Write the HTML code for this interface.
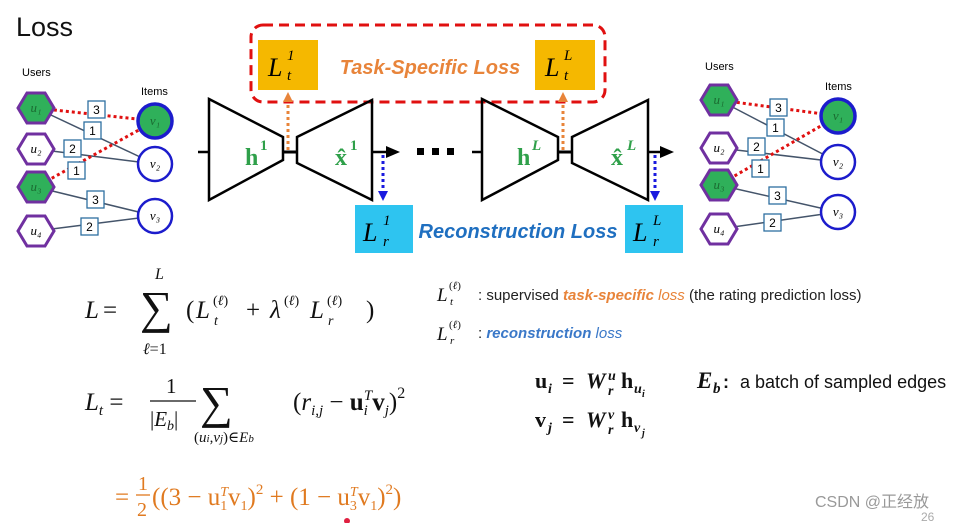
<!DOCTYPE html>
<html><head><meta charset="utf-8"><style>
html,body{margin:0;padding:0;background:#fff;}
svg{display:block;}
.m{font-family:"Liberation Serif","DejaVu Serif",serif;}
.s{font-family:"Liberation Sans","DejaVu Sans",sans-serif;}
</style></head><body>
<svg width="961" height="523" viewBox="0 0 961 523" xmlns="http://www.w3.org/2000/svg">
<defs>
<marker id="ao" markerUnits="userSpaceOnUse" markerWidth="10" markerHeight="10" refX="2" refY="5" orient="auto"><path d="M0,0 L10,5 L0,10z" fill="#e8843a"/></marker>
<marker id="ab" markerUnits="userSpaceOnUse" markerWidth="10" markerHeight="10" refX="2" refY="5" orient="auto"><path d="M0,0 L10,5 L0,10z" fill="#1a1adf"/></marker>
<marker id="ak" markerUnits="userSpaceOnUse" markerWidth="14" markerHeight="12" refX="2" refY="6" orient="auto"><path d="M0,0 L14,6 L0,12z" fill="#000"/></marker>
<g id="hex"><polygon points="-18,0 -9,-15 9,-15 18,0 9,15 -9,15" stroke="#7030a0" stroke-width="3"/></g>
</defs>
<text x="16" y="36" class="s" font-size="27" fill="#111">Loss</text>

<!-- left graph -->
<g class="s" font-size="11">
<text x="22" y="76">Users</text><text x="141" y="95">Items</text>
<g stroke="#44546a" stroke-width="1.5">
<line x1="36" y1="108" x2="155" y2="164"/><line x1="36" y1="149" x2="155" y2="164"/>
<line x1="36" y1="187" x2="155" y2="216"/><line x1="36" y1="231" x2="155" y2="216"/></g>
<g stroke="#e01010" stroke-width="3" stroke-dasharray="3,3">
<line x1="36" y1="108" x2="155" y2="121"/><line x1="36" y1="187" x2="155" y2="121"/></g>
<use href="#hex" x="36" y="108" fill="#2fb05a"/><use href="#hex" x="36" y="149" fill="#fff"/>
<use href="#hex" x="36" y="187" fill="#2fb05a"/><use href="#hex" x="36" y="231" fill="#fff"/>
<circle cx="155" cy="121" r="17" fill="#2fb05a" stroke="#1c1ccc" stroke-width="3.5"/>
<circle cx="155" cy="164" r="17" fill="#fff" stroke="#1c1ccc" stroke-width="2.5"/>
<circle cx="155" cy="216" r="17" fill="#fff" stroke="#1c1ccc" stroke-width="2.5"/>
<g class="m" font-style="italic" font-size="13" text-anchor="middle">
<text x="36" y="112" fill="#1a6a30">u₁</text><text x="36" y="153">u₂</text><text x="36" y="191" fill="#1a6a30">u₃</text><text x="36" y="235">u₄</text>
<text x="155" y="125" fill="#1a6a30">v₁</text><text x="155" y="168">v₂</text><text x="155" y="220">v₃</text></g>
<g fill="#fff" stroke="#2e6fa0" stroke-width="1.3">
<rect x="88" y="101" width="17" height="17"/><rect x="84" y="122" width="17" height="17"/><rect x="64" y="140" width="17" height="17"/>
<rect x="68" y="162" width="17" height="17"/><rect x="87" y="191" width="17" height="17"/><rect x="81" y="218" width="17" height="17"/></g>
<g font-size="12" text-anchor="middle"><text x="96.5" y="114">3</text><text x="92.5" y="135">1</text><text x="72.5" y="153">2</text><text x="76.5" y="175">1</text><text x="95.5" y="204">3</text><text x="89.5" y="231">2</text></g>
</g>

<!-- right graph -->
<g class="s" font-size="11">
<text x="705" y="70">Users</text><text x="825" y="90">Items</text>
<g stroke="#44546a" stroke-width="1.5">
<line x1="719" y1="100" x2="838" y2="162"/><line x1="719" y1="148" x2="838" y2="162"/>
<line x1="719" y1="185" x2="838" y2="212"/><line x1="719" y1="229" x2="838" y2="212"/></g>
<g stroke="#e01010" stroke-width="3" stroke-dasharray="3,3">
<line x1="719" y1="100" x2="838" y2="116"/><line x1="719" y1="185" x2="838" y2="116"/></g>
<use href="#hex" x="719" y="100" fill="#2fb05a"/><use href="#hex" x="719" y="148" fill="#fff"/>
<use href="#hex" x="719" y="185" fill="#2fb05a"/><use href="#hex" x="719" y="229" fill="#fff"/>
<circle cx="838" cy="116" r="17" fill="#2fb05a" stroke="#1c1ccc" stroke-width="3.5"/>
<circle cx="838" cy="162" r="17" fill="#fff" stroke="#1c1ccc" stroke-width="2.5"/>
<circle cx="838" cy="212" r="17" fill="#fff" stroke="#1c1ccc" stroke-width="2.5"/>
<g class="m" font-style="italic" font-size="13" text-anchor="middle">
<text x="719" y="104" fill="#1a6a30">u₁</text><text x="719" y="152">u₂</text><text x="719" y="189" fill="#1a6a30">u₃</text><text x="719" y="233">u₄</text>
<text x="838" y="120" fill="#1a6a30">v₁</text><text x="838" y="166">v₂</text><text x="838" y="216">v₃</text></g>
<g fill="#fff" stroke="#2e6fa0" stroke-width="1.3">
<rect x="770" y="99" width="17" height="17"/><rect x="767" y="119" width="17" height="17"/><rect x="748" y="138" width="17" height="17"/>
<rect x="752" y="160" width="17" height="17"/><rect x="769" y="187" width="17" height="17"/><rect x="764" y="214" width="17" height="17"/></g>
<g font-size="12" text-anchor="middle"><text x="778.5" y="112">3</text><text x="775.5" y="132">1</text><text x="756.5" y="151">2</text><text x="760.5" y="173">1</text><text x="777.5" y="200">3</text><text x="772.5" y="227">2</text></g>
</g>

<!-- autoencoder -->
<rect x="251" y="25" width="354" height="77" rx="12" fill="none" stroke="#e01010" stroke-width="3" stroke-dasharray="10,6"/>
<rect x="258" y="40" width="60" height="50" fill="#f5b800"/>
<rect x="535" y="40" width="60" height="50" fill="#f5b800"/>
<g class="m" font-style="italic" font-size="26"><text x="268" y="76">L</text><text x="545" y="76">L</text></g>
<g class="m" font-style="italic" font-size="15"><text x="287" y="60">1</text><text x="287" y="80">t</text><text x="564" y="60">L</text><text x="564" y="80">t</text></g>
<text x="430" y="74" class="s" font-size="20" font-weight="bold" font-style="italic" fill="#e8843a" text-anchor="middle">Task-Specific Loss</text>

<g fill="none" stroke="#000" stroke-width="2.5">
<polygon points="209,99 283,137 283,160 209,200"/><polygon points="297,137 372,100 372,200 297,163"/>
<polygon points="482,99 558,137 558,160 482,200"/><polygon points="572,137 648,100 648,200 572,163"/>
<line x1="283" y1="152" x2="297" y2="152" stroke-width="3"/><line x1="558" y1="152" x2="572" y2="152" stroke-width="3"/>
<line x1="198" y1="152" x2="209" y2="152"/><line x1="472" y1="152" x2="482" y2="152"/>
<line x1="372" y1="152" x2="388" y2="152" marker-end="url(#ak)"/><line x1="648" y1="152" x2="662" y2="152" marker-end="url(#ak)"/>
</g>
<g fill="#000"><rect x="417" y="148" width="7" height="7"/><rect x="432" y="148" width="7" height="7"/><rect x="447" y="148" width="7" height="7"/></g>
<g stroke="#e8843a" stroke-width="3" stroke-dasharray="3,3"><line x1="288" y1="150" x2="288" y2="100" marker-end="url(#ao)"/><line x1="563" y1="150" x2="563" y2="100" marker-end="url(#ao)"/></g>
<g stroke="#1a1adf" stroke-width="3" stroke-dasharray="3,3"><line x1="383" y1="155" x2="383" y2="193" marker-end="url(#ab)"/><line x1="655" y1="155" x2="655" y2="193" marker-end="url(#ab)"/></g>
<g class="m" font-weight="bold" font-size="24" fill="#2fa04a"><text x="245" y="165">h</text><text x="517" y="165">h</text><text x="335" y="165">x̂</text><text x="611" y="165">x̂</text></g>
<g class="m" font-weight="bold" font-size="15" fill="#2fa04a"><text x="260" y="150">1</text><text x="532" y="150" font-style="italic">L</text><text x="350" y="150">1</text><text x="627" y="150" font-style="italic">L</text></g>

<rect x="355" y="205" width="58" height="48" fill="#2ec4f0"/><rect x="625" y="205" width="58" height="48" fill="#2ec4f0"/>
<g class="m" font-style="italic" font-size="26"><text x="363" y="241">L</text><text x="633" y="241">L</text></g>
<g class="m" font-style="italic" font-size="15"><text x="383" y="225">1</text><text x="383" y="246">r</text><text x="653" y="225">L</text><text x="653" y="246">r</text></g>
<text x="518" y="238" class="s" font-size="20" font-weight="bold" font-style="italic" fill="#1f6fc0" text-anchor="middle">Reconstruction Loss</text>

<!-- equations -->
<g class="m" font-size="25" fill="#111">
<text x="85" y="318" font-style="italic">L</text><text x="103" y="318">=</text>
<text x="140" y="323" font-size="46">∑</text>
<text x="155" y="279" font-size="16" font-style="italic">L</text>
<text x="143" y="354" font-size="16"><tspan font-style="italic">ℓ</tspan>=1</text>
<text x="186" y="318">(</text><text x="196" y="318" font-style="italic">L</text>
<text x="213" y="305" font-size="14">(<tspan font-style="italic">ℓ</tspan>)</text><text x="214" y="325" font-size="14" font-style="italic">t</text>
<text x="246" y="318">+</text><text x="270" y="318" font-style="italic">λ</text>
<text x="284" y="305" font-size="14">(<tspan font-style="italic">ℓ</tspan>)</text>
<text x="310" y="318" font-style="italic">L</text>
<text x="327" y="305" font-size="14">(<tspan font-style="italic">ℓ</tspan>)</text><text x="328" y="325" font-size="14" font-style="italic">r</text>
<text x="366" y="318">)</text>

<text x="85" y="410"><tspan font-style="italic">L</tspan><tspan font-size="15" font-style="italic" dy="5">t</tspan><tspan dy="-5"> =</tspan></text>
<text x="166" y="393" font-size="21">1</text>
<line x1="150" y1="401" x2="196" y2="401" stroke="#111" stroke-width="1.3"/>
<text x="150" y="426" font-size="21">|<tspan font-style="italic">E</tspan><tspan font-size="14" font-style="italic" dy="4">b</tspan><tspan dy="-4">|</tspan></text>
<text x="200" y="418" font-size="46">∑</text>
<text x="194" y="442" font-size="15">(<tspan font-style="italic">u<tspan font-size="11">i</tspan></tspan>,<tspan font-style="italic">v<tspan font-size="11">j</tspan></tspan>)∈<tspan font-style="italic">E<tspan font-size="11">b</tspan></tspan></text>
<text x="293" y="410">(<tspan font-style="italic">r</tspan><tspan font-size="15" font-style="italic" dy="5">i,j</tspan><tspan dy="-5"> − </tspan><tspan font-weight="bold">u</tspan><tspan font-size="15" font-style="italic" dy="5">i</tspan><tspan font-size="15" font-style="italic" dx="-4" dy="-15">T</tspan><tspan font-weight="bold" dy="10">v</tspan><tspan font-size="15" font-style="italic" dy="5">j</tspan><tspan dy="-5">)</tspan><tspan font-size="16" dy="-12">2</tspan></text>
</g>
<g class="m" font-size="25" fill="#e07a20">
<text x="115" y="505">=</text>
<text x="138" y="490" font-size="20">1</text>
<line x1="136" y1="495" x2="150" y2="495" stroke="#e07a20" stroke-width="1.3"/>
<text x="137" y="516" font-size="20">2</text>
<text x="152" y="505">((3 − u<tspan font-size="14" dy="5">1</tspan><tspan font-size="14" font-style="italic" dx="-7" dy="-14">T</tspan><tspan dy="9">v</tspan><tspan font-size="14" dy="5">1</tspan><tspan dy="-5">)</tspan><tspan font-size="15" dy="-11">2</tspan><tspan dy="11"> + (1 − u</tspan><tspan font-size="14" dy="5">3</tspan><tspan font-size="14" font-style="italic" dx="-7" dy="-14">T</tspan><tspan dy="9">v</tspan><tspan font-size="14" dy="5">1</tspan><tspan dy="-5">)</tspan><tspan font-size="15" dy="-11">2</tspan><tspan dy="11">)</tspan></text>
</g>
<circle cx="347" cy="521" r="3" fill="#e02040"/>

<!-- right texts -->
<g class="m" font-style="italic" font-size="19" fill="#111"><text x="437" y="301">L</text><text x="437" y="340">L</text></g>
<g class="m" font-size="11" fill="#111"><text x="449" y="289">(<tspan font-style="italic">ℓ</tspan>)</text><text x="450" y="305" font-style="italic">t</text><text x="449" y="328">(<tspan font-style="italic">ℓ</tspan>)</text><text x="450" y="344" font-style="italic">r</text></g>
<g class="s" font-size="15" fill="#222">
<text x="478" y="300">: supervised <tspan fill="#e8843a" font-weight="bold" font-style="italic">task-specific</tspan><tspan fill="#e8843a" font-style="italic"> loss</tspan> (the rating prediction loss)</text>
<text x="478" y="338">: <tspan fill="#3a78c8" font-weight="bold" font-style="italic">reconstruction</tspan><tspan fill="#3a78c8" font-style="italic"> loss</tspan></text>
</g>
<g class="m" font-size="22" font-weight="bold" fill="#111">
<text x="535" y="388">u</text><text x="548" y="393" font-size="14" font-style="italic">i</text>
<text x="562" y="388">=</text>
<text x="586" y="388" font-style="italic">W</text><text x="608" y="380" font-size="14" font-style="italic">u</text><text x="608" y="395" font-size="14" font-style="italic">r</text>
<text x="621" y="388">h</text><text x="634" y="393" font-size="14" font-style="italic">u</text><text x="642" y="397" font-size="10" font-style="italic">i</text>

<text x="535" y="427">v</text><text x="548" y="432" font-size="14" font-style="italic">j</text>
<text x="562" y="427">=</text>
<text x="586" y="427" font-style="italic">W</text><text x="608" y="419" font-size="14" font-style="italic">v</text><text x="608" y="434" font-size="14" font-style="italic">r</text>
<text x="621" y="427">h</text><text x="634" y="432" font-size="14" font-style="italic">v</text><text x="642" y="436" font-size="10" font-style="italic">j</text>

<text x="697" y="388" font-style="italic" font-size="23">E</text><text x="713" y="393" font-size="15" font-style="italic">b</text>
</g>
<text x="723" y="388" class="s" font-size="18" font-weight="bold" fill="#111">:</text>
<text x="740" y="388" class="s" font-size="18" fill="#111">a batch of sampled edges</text>
<text x="815" y="507" font-family="'Liberation Sans','Noto Sans CJK SC',sans-serif" font-size="16" fill="#999">CSDN @正经放</text>
<text x="921" y="521" class="s" font-size="12" fill="#aaa">26</text>
</svg>
</body></html>
